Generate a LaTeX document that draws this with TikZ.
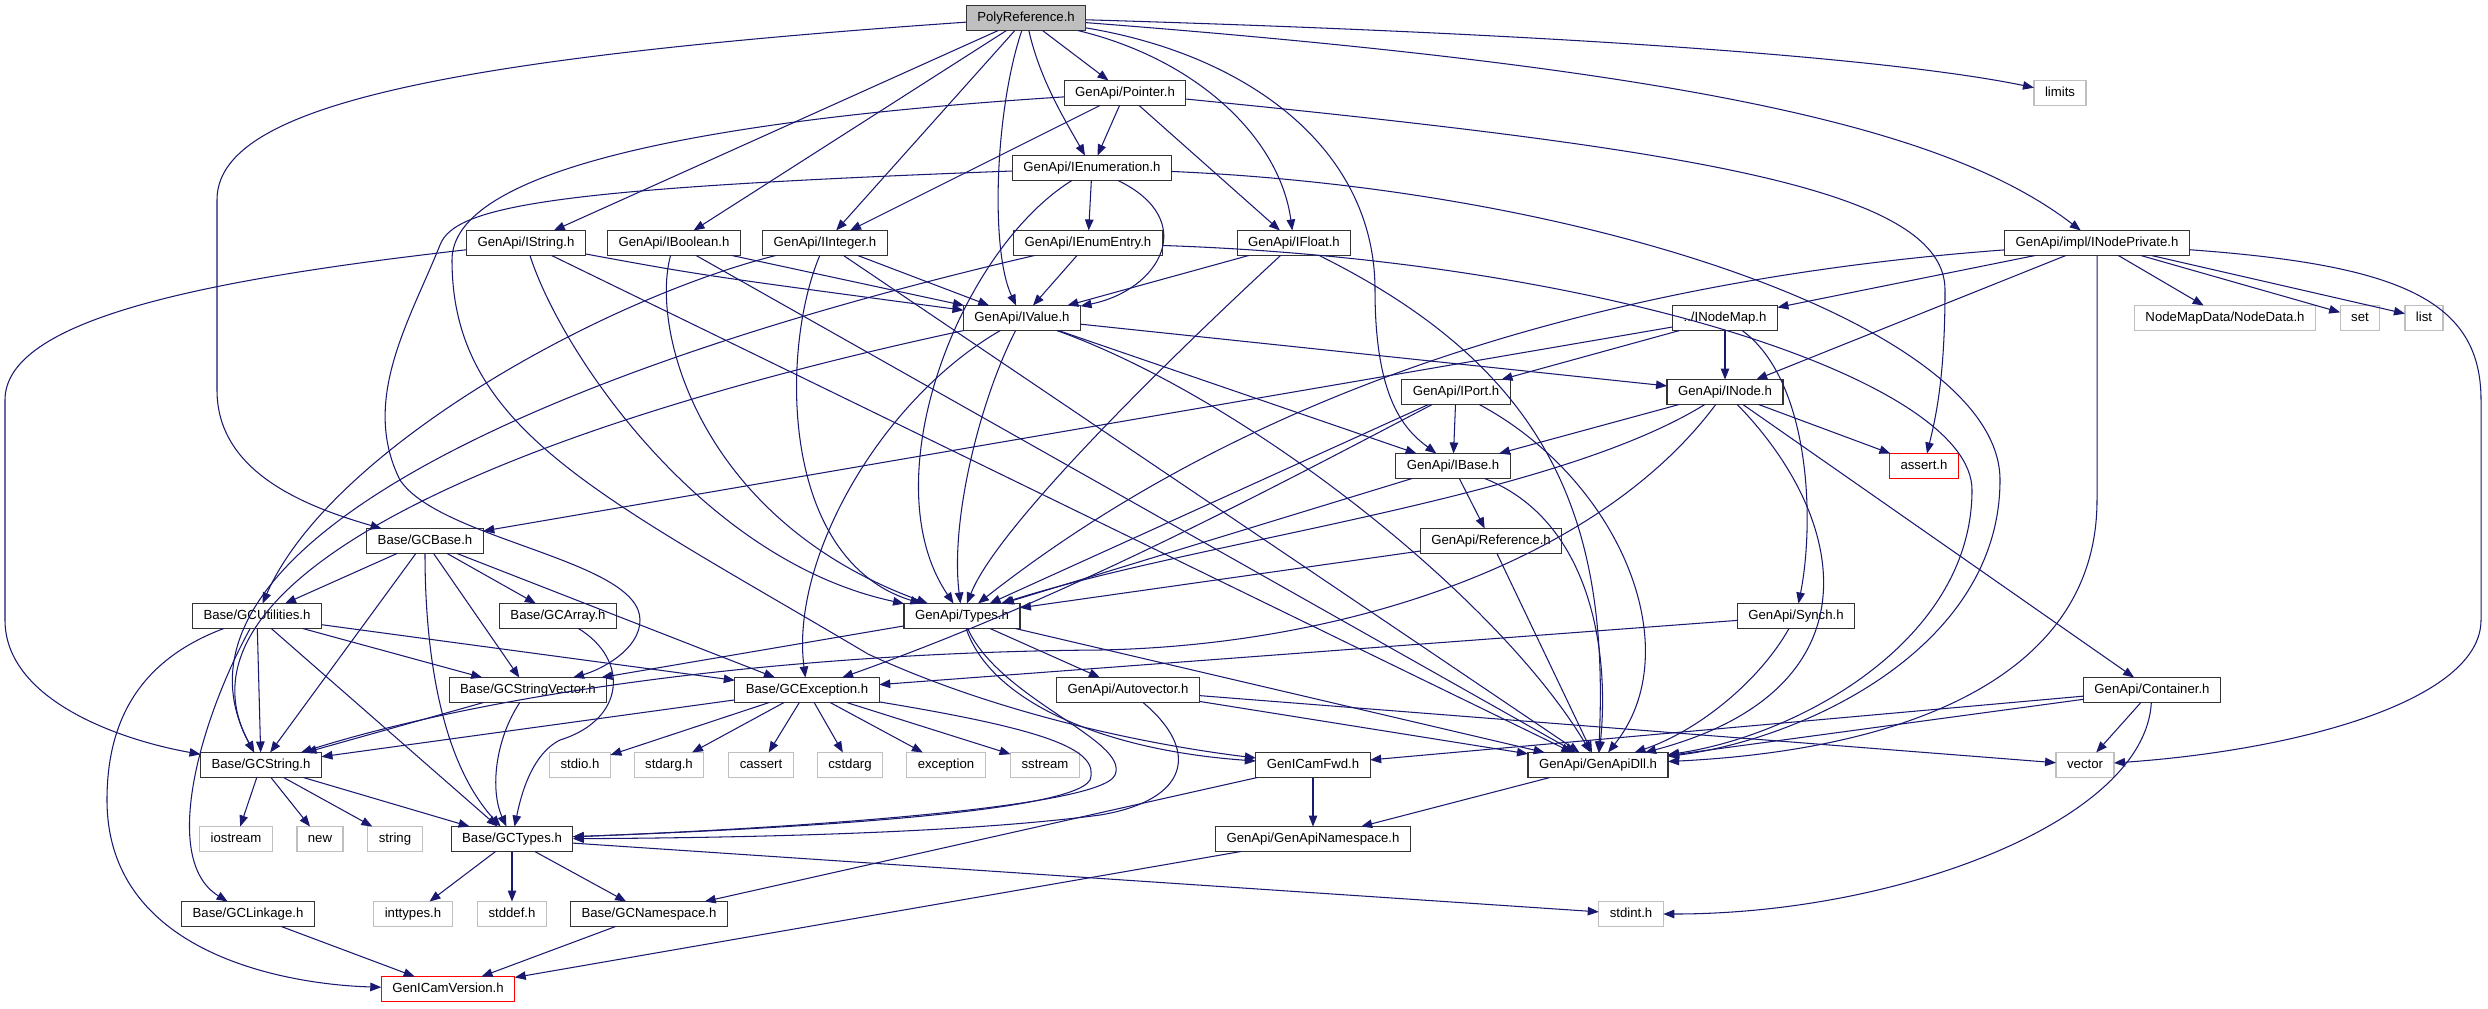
\documentclass[tikz,border=0pt]{standalone}
\usepackage{fontspec}
\setmainfont{Liberation Sans}
\usetikzlibrary{arrows.meta}
\definecolor{incblue}{RGB}{25,25,112}
\definecolor{sysgray}{RGB}{191,191,191}

\begin{document}
\begin{tikzpicture}[x=0.01cm,y=-0.01cm,
  hdr/.style={draw=black!80,line width=0.35pt,minimum height=0.25cm,inner xsep=0.11cm,inner ysep=0pt,outer sep=0pt,
    text height=2.8pt,text depth=0.8pt,font=\fontsize{3.75}{4.5}\selectfont},
  sys/.style={hdr,draw=sysgray},
  bad/.style={hdr,draw=red},
  inc/.style={incblue,line width=0.3pt,-{Triangle[length=0.11cm,width=0.085cm]}}]
\useasboundingbox (0,0) rectangle (2488,1008);
\node[hdr,fill=sysgray] (poly) at (1026,18) {PolyReference.h};
\node[hdr] (pointer) at (1125,93) {GenApi/Pointer.h};
\node[sys] (limits) at (2060,93) {limits};
\node[hdr] (ienum) at (1092,168) {GenApi/IEnumeration.h};
\node[hdr] (istring) at (526,243) {GenApi/IString.h};
\node[hdr] (ibool) at (674,243) {GenApi/IBoolean.h};
\node[hdr] (iint) at (825,243) {GenApi/IInteger.h};
\node[hdr] (ientry) at (1088,243) {GenApi/IEnumEntry.h};
\node[hdr] (ifloat) at (1294,243) {GenApi/IFloat.h};
\node[hdr] (inpriv) at (2097,243) {GenApi/impl/INodePrivate.h};
\node[hdr] (ivalue) at (1022,318) {GenApi/IValue.h};
\node[hdr] (inmap) at (1725,318) {../INodeMap.h};
\node[sys] (ndata) at (2225,318) {NodeMapData/NodeData.h};
\node[sys] (set) at (2360,318) {set};
\node[sys] (list) at (2424,318) {list};
\node[hdr] (iport) at (1456,392) {GenApi/IPort.h};
\node[hdr] (inode) at (1725,392) {GenApi/INode.h};
\node[hdr] (ibase) at (1453,466) {GenApi/IBase.h};
\node[bad] (assert) at (1924,466) {assert.h};
\node[hdr] (gcbase) at (425,541) {Base/GCBase.h};
\node[hdr] (ref) at (1491,541) {GenApi/Reference.h};
\node[hdr] (gcutil) at (257,616) {Base/GCUtilities.h};
\node[hdr] (gcarray) at (558,616) {Base/GCArray.h};
\node[hdr] (types) at (962,616) {GenApi/Types.h};
\node[hdr] (synch) at (1796,616) {GenApi/Synch.h};
\node[hdr] (gcsvec) at (528,690) {Base/GCStringVector.h};
\node[hdr] (gcexc) at (807,690) {Base/GCException.h};
\node[hdr] (autovec) at (1128,690) {GenApi/Autovector.h};
\node[hdr] (contain) at (2152,690) {GenApi/Container.h};
\node[hdr] (gcstr) at (261,765) {Base/GCString.h};
\node[sys] (stdio) at (580,765) {stdio.h};
\node[sys] (stdarg) at (669,765) {stdarg.h};
\node[sys] (cassert) at (761,765) {cassert};
\node[sys] (cstdarg) at (850,765) {cstdarg};
\node[sys] (except) at (946,765) {exception};
\node[sys] (sstream) at (1045,765) {sstream};
\node[hdr] (fwd) at (1313,765) {GenICamFwd.h};
\node[hdr] (dll) at (1598,765) {GenApi/GenApiDll.h};
\node[sys] (vector) at (2085,765) {vector};
\node[sys] (iostream) at (236,839) {iostream};
\node[sys] (new) at (320,839) {new};
\node[sys] (string) at (395,839) {string};
\node[hdr] (gctypes) at (512,839) {Base/GCTypes.h};
\node[hdr] (apins) at (1313,839) {GenApi/GenApiNamespace.h};
\node[hdr] (gclink) at (248,914) {Base/GCLinkage.h};
\node[sys] (inttypes) at (413,914) {inttypes.h};
\node[sys] (stddef) at (512,914) {stddef.h};
\node[hdr] (gcns) at (649,914) {Base/GCNamespace.h};
\node[sys] (stdint) at (1631,914) {stdint.h};
\node[bad] (version) at (448,989) {GenICamVersion.h};

\draw[inc] (poly) .. controls (420,60) and (217,110) .. (217,200) -- (217,390) .. controls (217,470) and (300,505) .. (gcbase);
\draw[inc] (poly) -- (istring);
\draw[inc] (poly) -- (ibool);
\draw[inc] (poly) -- (iint);
\draw[inc] (poly) .. controls (995,110) and (990,250) .. (ivalue);
\draw[inc] (poly) .. controls (1040,80) and (1065,120) .. (ienum);
\draw[inc] (poly) -- (pointer);
\draw[inc] (poly) .. controls (1200,60) and (1280,140) .. (ifloat);
\draw[inc] (poly) .. controls (1250,55) and (1375,150) .. (1375,290) .. controls (1375,400) and (1405,430) .. (ibase);
\draw[inc] (poly) .. controls (1700,70) and (1950,130) .. (inpriv);
\draw[inc] (poly) .. controls (1600,35) and (1900,60) .. (limits);
\draw[inc] (pointer) -- (ienum);
\draw[inc] (pointer) -- (iint);
\draw[inc] (pointer) -- (ifloat);
\draw[inc] (pointer) .. controls (1700,150) and (1945,190) .. (1945,290) .. controls (1945,380) and (1935,420) .. (assert);
\draw[inc] (pointer) .. controls (700,120) and (452,170) .. (452,260) .. controls (452,430) and (600,495) .. (868,654) .. controls (1000,715) and (1150,745) .. (fwd);
\draw[inc] (ienum) -- (ientry);
\draw[inc] (ienum) .. controls (1200,220) and (1160,290) .. (ivalue);
\draw[inc] (ienum) .. controls (960,250) and (870,480) .. (types);
\draw[inc] (ienum) .. controls (560,188) and (455,205) .. (440,245) .. controls (410,320) and (360,400) .. (400,480) .. controls (440,540) and (640,560) .. (640,620) .. controls (640,650) and (600,670) .. (gcsvec);
\draw[inc] (ienum) .. controls (1600,190) and (2000,330) .. (2000,480) .. controls (2000,650) and (1800,740) .. (dll);
\draw[inc] (istring) .. controls (200,280) and (5,320) .. (5,400) -- (5,620) .. controls (5,700) and (120,740) .. (gcstr);
\draw[inc] (istring) .. controls (700,275) .. (ivalue);
\draw[inc] (istring) .. controls (560,350) and (700,560) .. (types);
\draw[inc] (istring) -- (dll);
\draw[inc] (ibool) -- (ivalue);
\draw[inc] (ibool) .. controls (650,330) and (700,520) .. (types);
\draw[inc] (ibool) -- (dll);
\draw[inc] (iint) -- (ivalue);
\draw[inc] (iint) .. controls (780,350) and (780,560) .. (types);
\draw[inc] (iint) -- (dll);
\draw[inc] (iint) .. controls (600,300) and (330,450) .. (gcutil);
\draw[inc] (ientry) -- (ivalue);
\draw[inc] (ientry) .. controls (500,380) and (150,560) .. (gcstr);
\draw[inc] (ientry) .. controls (1600,260) and (1972,380) .. (1972,490) .. controls (1972,640) and (1800,735) .. (dll);
\draw[inc] (ifloat) -- (ivalue);
\draw[inc] (ifloat) .. controls (1200,330) and (1000,520) .. (types);
\draw[inc] (ifloat) .. controls (1550,370) and (1610,520) .. (dll);
\draw[inc] (inpriv) -- (inmap);
\draw[inc] (inpriv) -- (inode);
\draw[inc] (inpriv) .. controls (1600,280) and (1250,390) .. (types);
\draw[inc] (inpriv) -- (ndata);
\draw[inc] (inpriv) -- (set);
\draw[inc] (inpriv) -- (list);
\draw[inc] (inpriv) -- (2097,500) .. controls (2097,680) and (1900,750) .. (dll);
\draw[inc] (inpriv) .. controls (2400,265) and (2481,300) .. (2481,400) -- (2481,620) .. controls (2481,700) and (2300,750) .. (vector);
\draw[inc] (ivalue) -- (ibase);
\draw[inc] (ivalue) -- (inode);
\draw[inc] (ivalue) .. controls (980,400) and (950,520) .. (types);
\draw[inc] (ivalue) .. controls (880,400) and (790,560) .. (gcexc);
\draw[inc] (ivalue) .. controls (500,430) and (160,580) .. (gcstr);
\draw[inc] (ivalue) .. controls (1250,400) and (1500,600) .. (dll);
\draw[inc] (inmap) -- (inode);
\draw[inc] (inmap) -- (iport);
\draw[inc] (inmap) -- (gcbase);
\draw[inc] (inmap) .. controls (1810,380) and (1815,520) .. (synch);
\draw[inc] (iport) -- (ibase);
\draw[inc] (iport) -- (types);
\draw[inc] (iport) .. controls (1250,500) and (1060,600) .. (gcexc);
\draw[inc] (iport) .. controls (1620,480) and (1690,650) .. (dll);
\draw[inc] (inode) -- (ibase);
\draw[inc] (inode) .. controls (1550,500) and (1200,540) .. (types);
\draw[inc] (inode) .. controls (1600,560) and (1350,645) .. (1100,650) .. controls (800,652) and (500,690) .. (gcstr);
\draw[inc] (inode) .. controls (1850,520) and (1880,690) .. (dll);
\draw[inc] (inode) -- (assert);
\draw[inc] (inode) -- (contain);
\draw[inc] (ibase) -- (types);
\draw[inc] (ibase) -- (ref);
\draw[inc] (ibase) .. controls (1590,520) and (1610,650) .. (dll);
\draw[inc] (ref) -- (types);
\draw[inc] (ref) -- (dll);
\draw[inc] (synch) -- (gcexc);
\draw[inc] (synch) .. controls (1760,680) and (1700,730) .. (dll);
\draw[inc] (gcbase) -- (gcutil);
\draw[inc] (gcbase) -- (gcstr);
\draw[inc] (gcbase) .. controls (425,650) and (440,760) .. (gctypes);
\draw[inc] (gcbase) -- (gcsvec);
\draw[inc] (gcbase) -- (gcarray);
\draw[inc] (gcbase) -- (gcexc);
\draw[inc] (gcutil) .. controls (140,660) and (107,720) .. (107,800) .. controls (107,960) and (300,985) .. (version);
\draw[inc] (gcutil) .. controls (200,720) and (160,860) .. (gclink);
\draw[inc] (gcutil) -- (gcstr);
\draw[inc] (gcutil) -- (gctypes);
\draw[inc] (gcutil) -- (gcsvec);
\draw[inc] (gcutil) -- (gcexc);
\draw[inc] (gcarray) .. controls (630,660) and (625,720) .. (560,740) .. controls (530,755) and (520,800) .. (gctypes);
\draw[inc] (types) -- (gcsvec);
\draw[inc] (types) .. controls (1000,700) and (1130,740) .. (1115,775) .. controls (1100,810) and (750,830) .. (gctypes);
\draw[inc] (types) .. controls (990,700) and (1100,750) .. (fwd);
\draw[inc] (types) -- (autovec);
\draw[inc] (types) -- (dll);
\draw[inc] (gcsvec) -- (gcstr);
\draw[inc] (gcsvec) .. controls (495,740) and (490,790) .. (gctypes);
\draw[inc] (gcexc) -- (gcstr);
\draw[inc] (gcexc) .. controls (1050,730) and (1100,750) .. (1090,780) .. controls (1070,815) and (750,830) .. (gctypes);
\draw[inc] (gcexc) -- (stdio);
\draw[inc] (gcexc) -- (stdarg);
\draw[inc] (gcexc) -- (cassert);
\draw[inc] (gcexc) -- (cstdarg);
\draw[inc] (gcexc) -- (except);
\draw[inc] (gcexc) -- (sstream);
\draw[inc] (autovec) .. controls (1200,750) and (1190,800) .. (1100,815) .. controls (950,835) and (700,838) .. (gctypes);
\draw[inc] (autovec) -- (dll);
\draw[inc] (autovec) -- (vector);
\draw[inc] (contain) -- (vector);
\draw[inc] (contain) -- (dll);
\draw[inc] (contain) -- (fwd);
\draw[inc] (contain) .. controls (2145,820) and (1900,914) .. (stdint);
\draw[inc] (gcstr) -- (iostream);
\draw[inc] (gcstr) -- (new);
\draw[inc] (gcstr) -- (string);
\draw[inc] (gcstr) -- (gctypes);
\draw[inc] (fwd) -- (apins);
\draw[inc] (fwd) -- (gcns);
\draw[inc] (dll) -- (apins);
\draw[inc] (gctypes) -- (inttypes);
\draw[inc] (gctypes) -- (stddef);
\draw[inc] (gctypes) -- (gcns);
\draw[inc] (gctypes) -- (stdint);
\draw[inc] (apins) -- (version);
\draw[inc] (gclink) -- (version);
\draw[inc] (gcns) -- (version);
\end{tikzpicture}
\end{document}
